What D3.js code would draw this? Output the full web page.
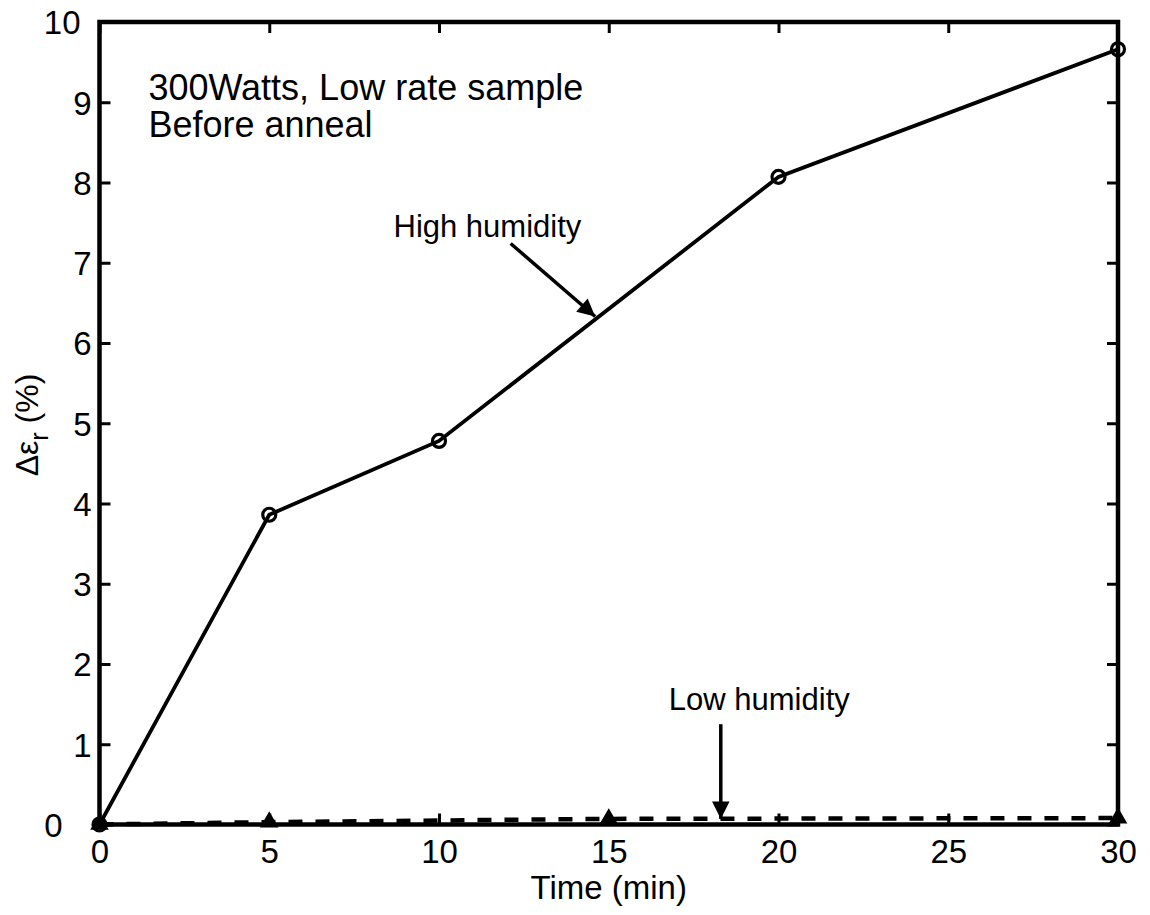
<!DOCTYPE html>
<html><head><meta charset="utf-8">
<script src="https://cdn.jsdelivr.net/npm/d3@7"></script>
<style>body{margin:0;background:#fff;} text{font-family:"Liberation Sans",Arial,sans-serif;fill:#000;}</style>
</head><body>
<svg id="c" width="1150" height="915"></svg>
<script>
const highX = [0, 5, 10, 20, 30];
const highY = [0, 3.86, 4.78, 8.07, 9.66];
const lowX = [0, 5, 15, 30];
const lowY = [0, 0.03, 0.07, 0.08];
const xTicks = [0, 5, 10, 15, 20, 25, 30];
const yTicks = [0,1,2,3,4,5,6,7,8,9,10];

const svg = d3.select("#c");
const L = 99.5, R = 1118, T = 22, B = 824.5;
const x = d3.scaleLinear().domain([0, 30]).range([L, R]);
const y = d3.scaleLinear().domain([0, 10]).range([B, T]);

const tl = 11;
const FF = "Liberation Sans, Arial, sans-serif";
const g = svg.append("g");
g.append("g").attr("transform", `translate(0,${B})`).call(d3.axisBottom(x).tickValues(xTicks).tickSizeInner(-tl).tickSizeOuter(0))
  .call(a => { a.select(".domain").remove(); a.selectAll("line").attr("stroke","#000").attr("stroke-width",3);
    a.selectAll("text").attr("font-size", 33).attr("fill","#000").attr("font-family",FF).attr("y", 38).attr("dy", 0); });
g.append("g").attr("transform", `translate(0,${T})`).call(d3.axisTop(x).tickValues(xTicks).tickSizeInner(-tl).tickSizeOuter(0).tickFormat(""))
  .call(a => { a.select(".domain").remove(); a.selectAll("line").attr("stroke","#000").attr("stroke-width",3); });
g.append("g").attr("transform", `translate(${L},0)`).call(d3.axisLeft(y).tickValues(yTicks).tickSizeInner(-tl).tickSizeOuter(0))
  .call(a => { a.select(".domain").remove(); a.selectAll("line").attr("stroke","#000").attr("stroke-width",3);
    a.selectAll("text").attr("font-size", 33).attr("fill","#000").attr("font-family",FF).attr("dy","0.36em")
      .attr("x", d => d === 0 ? -37 : (d === 10 ? -19 : -8)); });
g.append("g").attr("transform", `translate(${R},0)`).call(d3.axisRight(y).tickValues(yTicks).tickSizeInner(-tl).tickSizeOuter(0).tickFormat(""))
  .call(a => { a.select(".domain").remove(); a.selectAll("line").attr("stroke","#000").attr("stroke-width",3); });

// frame
svg.append("rect").attr("x", L).attr("y", T).attr("width", R-L).attr("height", B-T)
  .attr("fill","none").attr("stroke","#000").attr("stroke-width",4.5);

const line = d3.line().x(d => x(d[0])).y(d => y(d[1]));
const hi = highX.map((v,i)=>[v, highY[i]]);
const lo = lowX.map((v,i)=>[v, lowY[i]]);

svg.append("path").attr("d", line(lo)).attr("fill","none").attr("stroke","#000").attr("stroke-width",4.5).attr("stroke-dasharray","14,13");
svg.append("path").attr("d", line(hi)).attr("fill","none").attr("stroke","#000").attr("stroke-width",3.8);

svg.selectAll("circle.m").data(hi).enter().append("circle")
  .attr("cx", d=>x(d[0])).attr("cy", d=>y(d[1])).attr("r", 6.5)
  .attr("fill","none").attr("stroke","#000").attr("stroke-width",3.2);

const tri = d3.symbol().type(d3.symbolTriangle).size(150);
svg.selectAll("path.t").data(lo).enter().append("path")
  .attr("d", tri).attr("transform", d=>`translate(${x(d[0])},${y(d[1])})`)
  .attr("fill","#000");

// annotations
svg.append("defs").append("marker").attr("id","ah").attr("viewBox","0 0 10 10").attr("refX",10).attr("refY",5)
  .attr("markerWidth",7).attr("markerHeight",5).attr("markerUnits","strokeWidth").attr("orient","auto")
  .append("path").attr("d","M0,0 L10,5 L0,10 Z").attr("fill","#000");

const arrowHigh = [[12.11, 7.24], [14.6, 6.33]];
const arrowLow = [[18.3, 1.25], [18.3, 0.07]];
[arrowHigh, arrowLow].forEach(a => {
  svg.append("line").attr("x1", x(a[0][0])).attr("y1", y(a[0][1])).attr("x2", x(a[1][0])).attr("y2", y(a[1][1]))
    .attr("stroke","#000").attr("stroke-width",3.5).attr("marker-end","url(#ah)");
});
svg.append("text").attr("x", x(8.66)).attr("y", y(7.32)).attr("font-size", 31).text("High humidity");
svg.append("text").attr("x", x(16.77)).attr("y", y(1.43)).attr("font-size", 31).text("Low humidity");
svg.append("text").attr("x", x(1.44)).attr("y", y(9.03)).attr("font-size", 36).text("300Watts, Low rate sample");
svg.append("text").attr("x", x(1.44)).attr("y", y(8.57)).attr("font-size", 36).text("Before anneal");

svg.append("text").attr("x", (L+R)/2).attr("y", 899).attr("text-anchor","middle").attr("font-size", 33).text("Time (min)");
const yl = svg.append("text").attr("transform", `translate(38,425) rotate(-90)`).attr("text-anchor","middle").attr("font-size", 32);
yl.append("tspan").text("Δε");
yl.append("tspan").attr("font-size", 25).attr("dy", 10).text("r");
yl.append("tspan").attr("dy", -10).text(" (%)");
</script>
</body></html>
